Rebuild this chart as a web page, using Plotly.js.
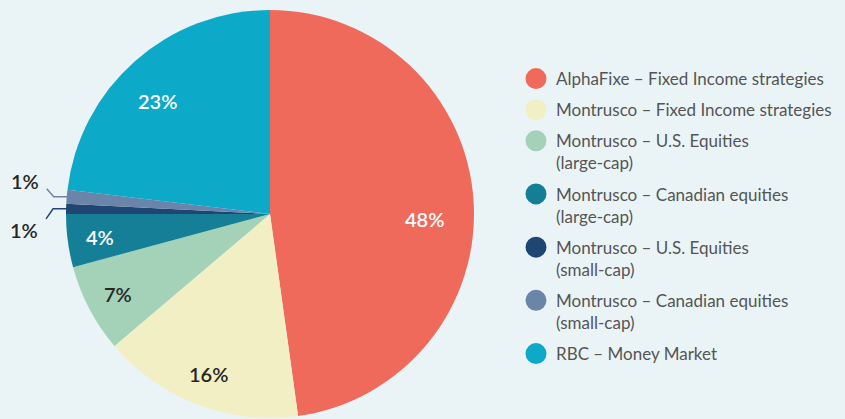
<!DOCTYPE html>
<html>
<head>
<meta charset="utf-8">
<script src="https://cdn.plot.ly/plotly-3.0.1.min.js"></script>
<style>
  html, body { margin: 0; padding: 0; background: #eaf4f7; }
  #chart { width: 845px; height: 419px; }
</style>
</head>
<body>
<div id="chart"></div>
<script>
// ---- data ----
const categories = [
  "AlphaFixe – Fixed Income strategies",
  "Montrusco – Fixed Income strategies",
  "Montrusco – U.S. Equities<br>(large-cap)",
  "Montrusco – Canadian equities<br>(large-cap)",
  "Montrusco – U.S. Equities<br>(small-cap)",
  "Montrusco – Canadian equities<br>(small-cap)",
  "RBC – Money Market"
];
const shares = [47.8, 16.0, 7.0, 4.2, 0.8, 1.1, 23.1];

// ---- styles ----
const sliceColors = ["#f06a5b", "#f2efc5", "#a3d2b9", "#147f97", "#1f4672", "#6b84a9", "#0ca9c8"];
const labelColors = ["#ffffff", "#262626", "#262626", "#ffffff", "#262626", "#262626", "#ffffff"];
const insideLabel = [true, true, true, true, false, false, true];
const labelRadius = [0.76, 0.84, 0.84, 0.84, 1, 1, 0.78]; // fraction of pie radius
const labelAngleShift = [5.8, 0, 0, 0, 0, 0, -3.4];      // degrees

// ---- layout constants ----
const W = 845, H = 419;
const M = { l: 66, r: 371, t: 10, b: 1 };
const plotW = W - M.l - M.r, plotH = H - M.t - M.b;
const R = Math.min(plotW, plotH) / 2;
const CX = M.l + plotW / 2, CY = M.t + plotH / 2;
const toPX = px => (px - M.l) / plotW;
const toPY = py => (H - M.b - py) / plotH;

const total = shares.reduce((a, b) => a + b, 0);
const fmt = v => Math.round(v / total * 100) + "%";
const labelFont = c => ({ family: "Lato, sans-serif", size: 20, color: c, weight: 600 });

// slice labels (inside) and outside labels with elbow leader lines, computed from the data
const shapes = [], annotations = [];
let cum = 0;
shares.forEach((v, i) => {
  const mid = (cum + v / 2) / total * 2 * Math.PI;
  cum += v;
  if (insideLabel[i]) {
    const r = R * labelRadius[i];
    const a = mid + labelAngleShift[i] * Math.PI / 180;
    annotations.push({
      xref: "paper", yref: "paper", showarrow: false,
      x: toPX(CX + r * Math.sin(a)), y: toPY(CY - r * Math.cos(a)),
      xanchor: "center", yanchor: "middle",
      text: fmt(v), font: labelFont(labelColors[i])
    });
    return;
  }
  const ex = CX + R * Math.sin(mid), ey = CY - R * Math.cos(mid);
  const up = Math.cos(mid) > 0.06; // slices above the horizontal go up
  const hx = ex - 13, dx = hx - 7, dy = ey + (up ? -8 : 10);
  shapes.push({
    type: "path", xref: "paper", yref: "paper",
    path: `M${toPX(ex + 1)},${toPY(ey)} L${toPX(hx)},${toPY(ey)} L${toPX(dx)},${toPY(dy)}`,
    line: { color: sliceColors[i], width: 1.5 }
  });
  annotations.push({
    xref: "paper", yref: "paper", showarrow: false,
    x: toPX(dx - 22), y: toPY(dy + (up ? -8 : 11)),
    xanchor: "center", yanchor: "middle",
    text: fmt(v), font: labelFont(labelColors[i])
  });
});

const pie = {
  type: "pie",
  labels: categories,
  values: shares,
  sort: false,
  direction: "clockwise",
  rotation: 0,
  marker: { colors: sliceColors, line: { width: 0 } },
  textinfo: "none",
  hoverinfo: "label+percent",
  showlegend: false
};

const legendTraces = categories.map((c, i) => ({
  type: "scatter", mode: "markers",
  x: [null], y: [null],
  name: c, legendgroup: "g" + i,
  marker: { size: 16, color: sliceColors[i], symbol: "circle", line: { color: sliceColors[i], width: 5 } },
  hoverinfo: "skip"
}));

const layout = {
  width: W, height: H,
  margin: { l: M.l, r: M.r, t: M.t, b: M.b, autoexpand: false },
  paper_bgcolor: "#eaf4f7",
  plot_bgcolor: "rgba(0,0,0,0)",
  xaxis: { visible: false },
  yaxis: { visible: false },
  showlegend: true,
  legend: {
    x: toPX(516), xanchor: "left",
    y: toPY(61), yanchor: "top",
    valign: "top",
    tracegroupgap: 6,
    bgcolor: "rgba(0,0,0,0)",
    font: { family: "Lato, sans-serif", size: 17, color: "#555555" }
  },
  shapes: shapes,
  annotations: annotations
};

Plotly.newPlot("chart", [pie].concat(legendTraces), layout, { displayModeBar: false, staticPlot: true });
</script>
</body>
</html>
